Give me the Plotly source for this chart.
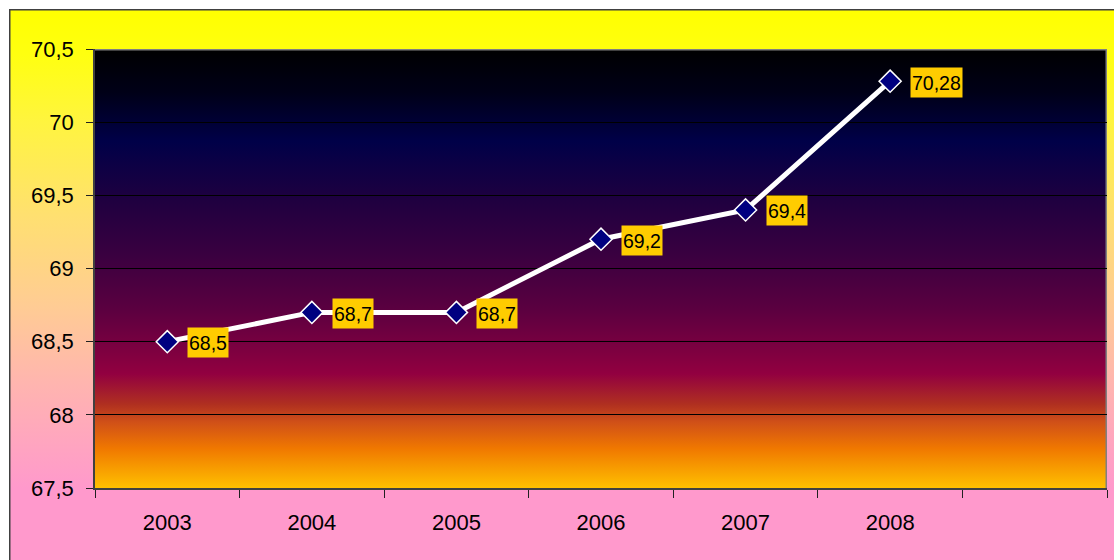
import base64
import plotly.graph_objects as go

# ---- data ----
years = ["2003", "2004", "2005", "2006", "2007", "2008"]
values = [68.5, 68.7, 68.7, 69.2, 69.4, 70.28]
y_tick_values = [67.5, 68, 68.5, 69, 69.5, 70, 70.5]
y_tick_labels = ["67,5", "68", "68,5", "69", "69,5", "70", "70,5"]
n_slots = 7  # category slots on the axis (last one empty)

# ---- geometry of the figure (pixels) ----
W, H = 1114, 560
M_L, M_R, M_T, M_B = 95, 7, 49, 72
PW, PH = W - M_L - M_R, H - M_T - M_B

FONT = "Arial, 'Liberation Sans', sans-serif"


def svg_uri(svg):
    return "data:image/svg+xml;base64," + base64.b64encode(svg.encode()).decode()


# plot-area gradient ("late sunset")
plot_stops = [
    (0.00, "#000000"),
    (0.10, "#000018"),
    (0.21, "#000048"),
    (0.34, "#1E0040"),
    (0.47, "#3A0040"),
    (0.59, "#5A0040"),
    (0.70, "#820040"),
    (0.74, "#920040"),
    (0.81, "#B03020"),
    (0.85, "#D05018"),
    (0.91, "#F07800"),
    (1.00, "#FFC000"),
]
stops_xml = "".join(
    f'<stop offset="{o}" stop-color="{c}"/>' for o, c in plot_stops
)
plot_svg = (
    f'<svg xmlns="http://www.w3.org/2000/svg" width="{PW}" height="{PH}" '
    f'viewBox="0 0 {PW} {PH}" preserveAspectRatio="none">'
    f'<defs><linearGradient id="g" x1="0" y1="0" x2="0" y2="1">{stops_xml}'
    f'</linearGradient></defs>'
    f'<rect x="0" y="0" width="{PW}" height="{PH}" fill="url(#g)"/>'
    f'<path d="M0 0.75 H{PW - 0.75} V{PH}" fill="none" stroke="#808080" stroke-width="1.5"/>'
    f'</svg>'
)

# chart-area gradient (yellow -> pink)
OX, OY = 9, 9
OW, OH = W + 20 - OX, H + 20 - OY
outer_stops = [
    (0.00, "#FFFF00"),
    (0.08, "#FFFF10"),
    (0.20, "#FFF440"),
    (0.36, "#FFE070"),
    (0.52, "#FFCC94"),
    (0.66, "#FFB4B0"),
    (0.84, "#FF99CC"),
    (1.00, "#FF99CC"),
]
ostops_xml = "".join(
    f'<stop offset="{o}" stop-color="{c}"/>' for o, c in outer_stops
)
outer_svg = (
    f'<svg xmlns="http://www.w3.org/2000/svg" width="{OW}" height="{OH}" '
    f'viewBox="0 0 {OW} {OH}" preserveAspectRatio="none">'
    f'<defs><linearGradient id="o" x1="0" y1="0" x2="0" y2="1">{ostops_xml}'
    f'</linearGradient></defs>'
    f'<rect x="0" y="0" width="{OW}" height="{OH}" fill="url(#o)"/>'
    f'<path d="M0.75 {OH} V0.75 H{OW}" fill="none" stroke="#404040" stroke-width="1.5"/>'
    f'</svg>'
)

x_idx = list(range(len(years)))

fig = go.Figure()
fig.add_trace(
    go.Scatter(
        x=x_idx,
        y=values,
        mode="lines+markers",
        line=dict(color="white", width=5),
        marker=dict(
            symbol="diamond",
            size=17,
            color="#000080",
            line=dict(color="white", width=1.5),
        ),
        hoverinfo="skip",
        showlegend=False,
    )
)

annotations = []
for i, v in zip(x_idx, values):
    annotations.append(
        dict(
            x=i,
            y=v,
            xref="x",
            yref="y",
            text=f"{v:g}".replace(".", ","),
            showarrow=False,
            xanchor="left",
            yanchor="middle",
            xshift=20,
            yshift=-1,
            height=27,
            valign="middle",
            bgcolor="#FFCC00",
            borderpad=1,
            font=dict(family=FONT, size=19.5, color="black"),
        )
    )

images = [
    dict(
        source=svg_uri(outer_svg),
        xref="paper",
        yref="paper",
        x=(OX - M_L) / PW,
        y=(M_T + PH - OY) / PH,
        sizex=OW / PW,
        sizey=OH / PH,
        xanchor="left",
        yanchor="top",
        sizing="stretch",
        layer="below",
    ),
    dict(
        source=svg_uri(plot_svg),
        xref="paper",
        yref="paper",
        x=0,
        y=1,
        sizex=1,
        sizey=1,
        xanchor="left",
        yanchor="top",
        sizing="stretch",
        layer="below",
    ),
]

fig.update_layout(
    width=W,
    height=H,
    margin=dict(l=M_L, r=M_R, t=M_T, b=M_B, pad=0),
    paper_bgcolor="white",
    plot_bgcolor="rgba(0,0,0,0)",
    font=dict(family=FONT, size=22, color="black"),
    separators=", ",
    images=images,
    annotations=annotations,
    showlegend=False,
    xaxis=dict(
        range=[-0.5, n_slots - 0.5],
        tickmode="array",
        tickvals=x_idx,
        ticktext=years,
        ticks="",
        showgrid=False,
        zeroline=False,
        showline=True,
        linecolor="#404040",
        linewidth=1.5,
        ticklabelstandoff=14,
        tickfont=dict(family=FONT, size=22, color="black"),
        minor=dict(
            tickmode="array",
            tickvals=[k - 0.5 for k in range(n_slots + 1)],
            ticks="outside",
            ticklen=8,
            tickwidth=1,
            tickcolor="#202020",
            showgrid=False,
        ),
        fixedrange=True,
    ),
    yaxis=dict(
        range=[y_tick_values[0], y_tick_values[-1]],
        tickmode="array",
        tickvals=y_tick_values,
        ticktext=y_tick_labels,
        ticks="outside",
        ticklen=7,
        tickwidth=1,
        tickcolor="#202020",
        showgrid=True,
        gridcolor="black",
        gridwidth=1,
        zeroline=False,
        showline=True,
        linecolor="#404040",
        linewidth=1.5,
        ticklabelstandoff=8,
        tickfont=dict(family=FONT, size=22, color="black"),
        fixedrange=True,
    ),
)

fig.write_html(
    "out.html",
    config={"displayModeBar": False},
    post_script=(
        "document.body.style.margin='0';"
        "document.body.style.overflow='hidden';"
    ),
)
